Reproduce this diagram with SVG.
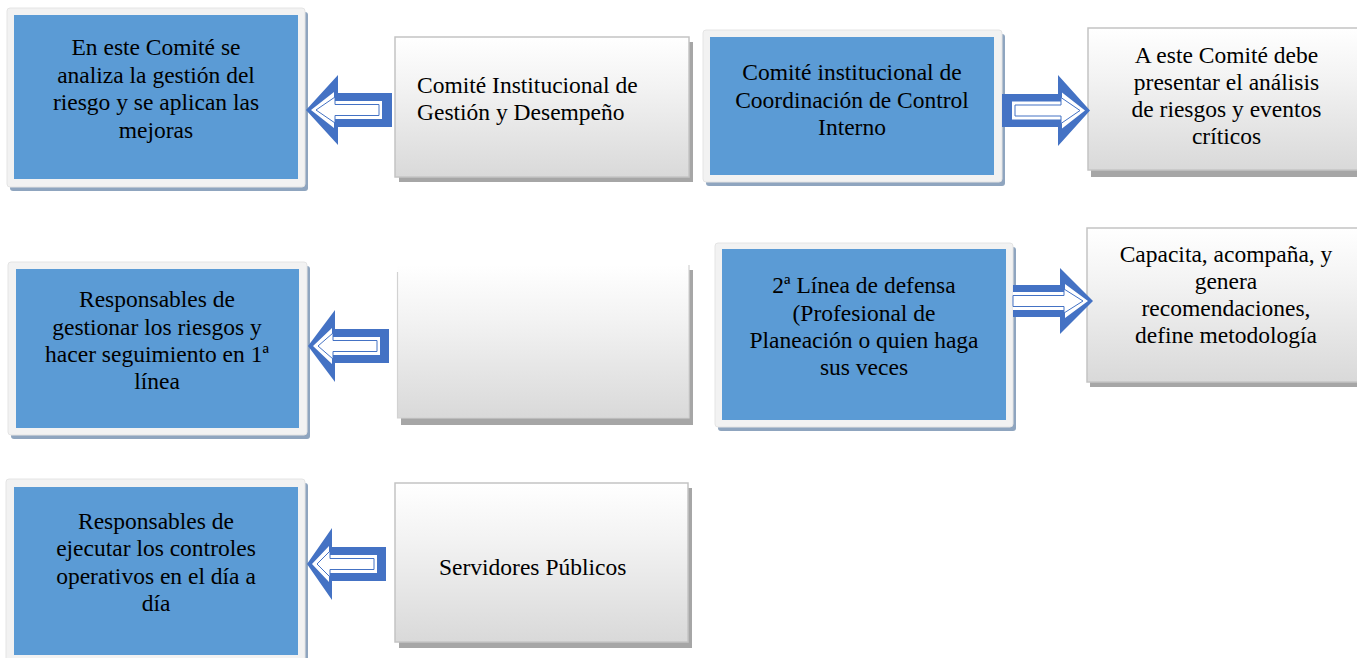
<svg xmlns="http://www.w3.org/2000/svg" width="1357" height="658" viewBox="0 0 1357 658" font-family="'Liberation Serif', 'Times New Roman', 'DejaVu Serif', serif">
<defs>
<linearGradient id="gg" x1="0" y1="0" x2="0" y2="1">
<stop offset="0" stop-color="#ffffff"/>
<stop offset="0.35" stop-color="#f3f3f3"/>
<stop offset="1" stop-color="#d9d9d9"/>
</linearGradient>
<style>
.frame{fill:#f2f2f2;stroke:#e4e4e4;stroke-width:1}
.fshadow{fill:#8fa5bf}
.blue{fill:#5b9bd5}
.gray{fill:url(#gg);stroke:#c4c4c4;stroke-width:1.5}
.gshadow{fill:#a6a6a6}
.t{font-family:'Liberation Serif','Times New Roman','DejaVu Serif',serif;font-size:23.5px;fill:#000}
.c{text-anchor:middle}
.ao{fill:#4472c4}
.aw{fill:#ffffff}
.al{fill:#ffffff;stroke:#4472c4;stroke-width:1}
</style>
</defs>
<rect width="1357" height="658" fill="#ffffff"/>

<g id="node-a">
<rect class="fshadow" x="10" y="12" width="298" height="179" rx="3"/>
<rect class="frame" x="7" y="8" width="298" height="179" rx="3"/>
<rect class="blue" x="14" y="15" width="284" height="164"/>
<text class="t c" x="156" y="55">En este Comité se</text>
<text class="t c" x="156" y="82.5">analiza la gestión del</text>
<text class="t c" x="156" y="110">riesgo y se aplican las</text>
<text class="t c" x="156" y="137.5">mejoras</text>
</g>

<g id="node-b">
<rect class="gshadow" x="399" y="42" width="294" height="140"/>
<rect class="gray" x="395" y="37" width="294" height="140"/>
<text class="t" x="417" y="93.3">Comité Institucional de</text>
<text class="t" x="417" y="120.3">Gestión y Desempeño</text>
</g>

<g id="node-c">
<rect class="fshadow" x="706" y="34" width="299" height="152" rx="3"/>
<rect class="frame" x="703" y="30" width="299" height="152" rx="3"/>
<rect class="blue" x="710" y="37" width="284" height="138"/>
<text class="t c" x="852" y="80">Comité institucional de</text>
<text class="t c" x="852" y="107.5">Coordinación de Control</text>
<text class="t c" x="852" y="135">Interno</text>
</g>

<g id="node-d">
<rect class="gshadow" x="1091" y="34" width="274" height="143"/>
<rect class="gray" x="1088" y="28" width="274" height="142"/>
<text class="t c" x="1226.5" y="62.5">A este Comité debe</text>
<text class="t c" x="1226.5" y="89.5">presentar el análisis</text>
<text class="t c" x="1226.5" y="116.5">de riesgos y eventos</text>
<text class="t c" x="1226.5" y="143.5">críticos</text>
</g>

<g id="node-e">
<rect class="fshadow" x="11" y="266" width="299" height="173" rx="3"/>
<rect class="frame" x="8" y="262" width="299" height="173" rx="3"/>
<rect class="blue" x="16" y="269" width="283" height="159"/>
<text class="t c" x="157" y="307.3">Responsables de</text>
<text class="t c" x="157" y="334.7">gestionar los riesgos y</text>
<text class="t c" x="157" y="362">hacer seguimiento en 1ª</text>
<text class="t c" x="157" y="389.3">línea</text>
</g>

<g id="node-f">
<rect class="gshadow" x="401" y="270" width="292" height="155"/>
<rect x="397" y="265" width="292" height="153" fill="url(#gg)"/>
<path d="M397.5,272 V418 H689 V265" fill="none" stroke="#d2d2d2" stroke-width="1.2"/>
</g>

<g id="node-g">
<rect class="fshadow" x="718" y="247" width="298" height="184" rx="3"/>
<rect class="frame" x="715" y="243" width="298" height="184" rx="3"/>
<rect class="blue" x="722" y="249" width="284" height="171"/>
<text class="t c" x="864" y="293.3">2ª Línea de defensa</text>
<text class="t c" x="864" y="320.5">(Profesional de</text>
<text class="t c" x="864" y="347.5">Planeación o quien haga</text>
<text class="t c" x="864" y="375">sus veces</text>
</g>

<g id="node-h">
<rect class="gshadow" x="1090" y="233" width="275" height="154"/>
<rect class="gray" x="1087" y="228" width="275" height="154"/>
<text class="t c" x="1226" y="261.7">Capacita, acompaña, y</text>
<text class="t c" x="1226" y="289">genera</text>
<text class="t c" x="1226" y="316">recomendaciones,</text>
<text class="t c" x="1226" y="343.3">define metodología</text>
</g>

<g id="node-i">
<rect class="fshadow" x="9" y="483" width="299" height="186" rx="3"/>
<rect class="frame" x="6" y="479" width="299" height="186" rx="3"/>
<rect class="blue" x="14" y="487" width="284" height="168"/>
<text class="t c" x="156" y="529.3">Responsables de</text>
<text class="t c" x="156" y="556.3">ejecutar los controles</text>
<text class="t c" x="156" y="583.5">operativos en el día a</text>
<text class="t c" x="156" y="610.5">día</text>
</g>

<g id="node-j">
<rect class="gshadow" x="399" y="488" width="293" height="160"/>
<rect class="gray" x="395" y="483" width="293" height="159"/>
<text class="t" x="439" y="575">Servidores Públicos</text>
</g>

<g id="connectors">
<g transform="translate(306,110)">
<path class="ao" d="M0,0 L32,-35 L32,-17 L86,-17 L86,17 L32,17 L32,35 Z"/>
<path class="aw" d="M5,0 L28,-18 L28,-9 L76,-9 L76,9 L28,9 L28,18 Z"/>
<path class="al" d="M10,0 L29,-13 L29,-5.5 L73,-5.5 L73,5.5 L29,5.5 L29,13 Z"/>
</g>
<g transform="translate(1090,110.5) scale(-1,1)">
<path class="ao" d="M0,0 L32,-35.5 L32,-16.5 L88,-16.5 L88,16.5 L32,16.5 L32,35.5 Z"/>
<path class="aw" d="M5,0 L28,-18 L28,-9 L78,-9 L78,9 L28,9 L28,18 Z"/>
<path class="al" d="M10,0 L29,-13 L29,-5.5 L75,-5.5 L75,5.5 L29,5.5 L29,13 Z"/>
</g>
<g transform="translate(308,346)">
<path class="ao" d="M0,0 L27,-36 L27,-17 L81,-17 L81,17 L27,17 L27,36 Z"/>
<path class="aw" d="M5,0 L24,-18 L24,-9 L72,-9 L72,9 L24,9 L24,18 Z"/>
<path class="al" d="M10,0 L25,-13 L25,-5.5 L69,-5.5 L69,5.5 L25,5.5 L25,13 Z"/>
</g>
<g transform="translate(1093,301) scale(-1,1)">
<path class="ao" d="M0,0 L33,-33 L33,-16 L80,-16 L80,16 L33,16 L33,33 Z"/>
<path class="aw" d="M5,0 L28,-17 L28,-9 L80,-9 L80,9 L28,9 L28,17 Z"/>
<path class="al" d="M10,0 L29,-12 L29,-5.5 L80,-5.5 L80,5.5 L29,5.5 L29,12 Z"/>
</g>
<g transform="translate(307,564)">
<path class="ao" d="M0,0 L25,-36 L25,-17 L79,-17 L79,17 L25,17 L25,36 Z"/>
<path class="aw" d="M5,0 L22,-18 L22,-9 L70,-9 L70,9 L22,9 L22,18 Z"/>
<path class="al" d="M10,0 L23,-13 L23,-5.5 L67,-5.5 L67,5.5 L23,5.5 L23,13 Z"/>
</g>
</g>
</svg>
